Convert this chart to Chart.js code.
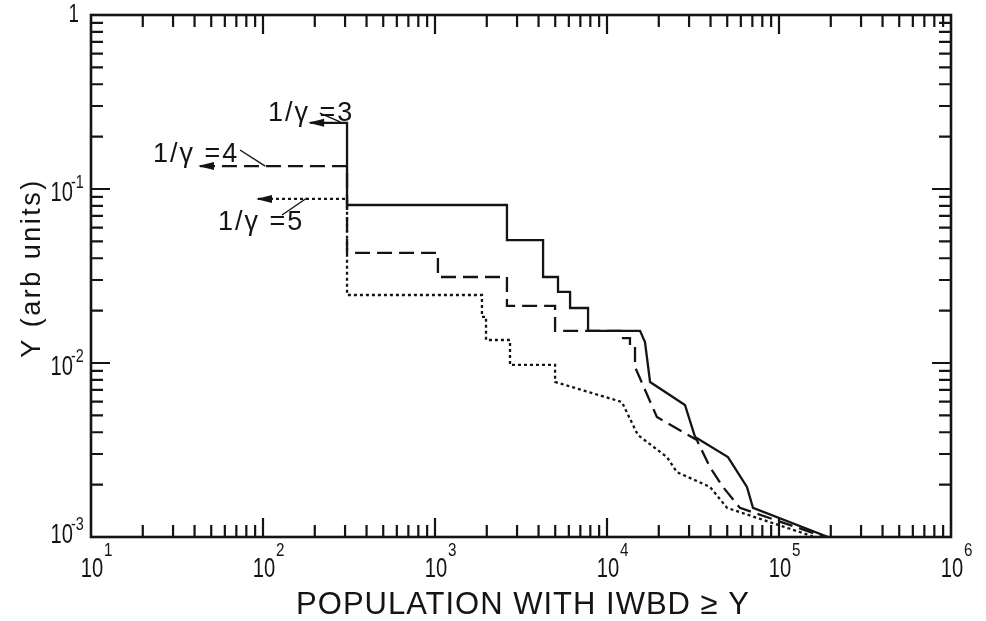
<!DOCTYPE html>
<html>
<head>
<meta charset="utf-8">
<script src="https://cdn.jsdelivr.net/npm/chart.js@4/dist/chart.umd.min.js"></script>
<style>
  html, body { margin: 0; padding: 0; background: #fff; }
  #wrap { width: 986px; height: 621px; position: relative; }
</style>
</head>
<body>
<div id="wrap"><canvas id="chart" width="986" height="621"></canvas></div>
<script>
// values (x = population, y = arb units)
const solidX = [188, 308, 308, 2620, 2620, 4250, 4250, 5190, 5190, 6100, 6100, 7760, 7760, 15560, 16630, 17800, 28400, 32500, 50500, 65100, 70600, 198000];
const solidY = [0.240, 0.240, 0.0809, 0.0809, 0.0509, 0.0509, 0.0312, 0.0312, 0.0256, 0.0256, 0.0207, 0.0207, 0.0153, 0.0153, 0.0132, 0.00778, 0.00574, 0.00376, 0.00288, 0.00194, 0.00147, 0.00099];

const dashX = [43, 308, 308, 1040, 1040, 2620, 2620, 4990, 4990, 12050, 12050, 13600, 13600, 14550, 14550, 19500, 33300, 39700, 47200, 59300, 190000];
const dashY = [0.1355, 0.1355, 0.0429, 0.0429, 0.0312, 0.0312, 0.0213, 0.0213, 0.0153, 0.0153, 0.0139, 0.0139, 0.0124, 0.0124, 0.00948, 0.0049, 0.00361, 0.00252, 0.00194, 0.00147, 0.00099];

const dotX = [93.5, 308, 308, 1875, 1875, 1980, 1980, 2730, 2730, 4990, 4990, 12200, 15100, 22300, 25500, 39700, 49900, 166000];
const dotY = [0.0877, 0.0877, 0.0246, 0.0246, 0.0184, 0.0184, 0.01356, 0.01356, 0.00975, 0.00975, 0.00778, 0.00597, 0.00386, 0.00288, 0.00236, 0.00194, 0.00147, 0.00099];

const xDecades = [1, 2, 3, 4, 5, 6];
const yDecades = [0, -1, -2, -3];

// curve labels: text, label anchor, leader line from/to (data coords)
const curveLabels = [
    { text: '1/\u03b3 =3', x: 107, y: 0.246, from: [214, 0.273], to: [281, 0.243] },
    { text: '1/\u03b3 =4', x: 22.9, y: 0.143, from: [73.5, 0.1676], to: [103, 0.1355] },
    { text: '1/\u03b3 =5', x: 54.7, y: 0.0581, from: [129, 0.0709], to: [180, 0.0888] }
];

function toPoints(xs, ys) {
    return xs.map((x, i) => ({ x: x, y: ys[i] }));
}

const INK = '#141414';
const FONT = '"Liberation Sans", "DejaVu Sans", sans-serif';

// narrow text, the scan uses a condensed lettering
function drawText(ctx, text, x, y, size, align, sx) {
    ctx.save();
    ctx.translate(x, y);
    ctx.scale(sx, 1);
    ctx.font = size + 'px ' + FONT;
    ctx.textAlign = align;
    ctx.textBaseline = 'alphabetic';
    ctx.fillText(text, 0, 0);
    ctx.restore();
}

// inward ticks on all four sides plus the frame
const frameTicks = {
    id: 'frameTicks',
    afterDraw(chart) {
        const { ctx, chartArea: { top, right, bottom, left }, scales: { x, y } } = chart;
        ctx.save();
        ctx.strokeStyle = INK;
        ctx.lineWidth = 2.2;
        ctx.lineCap = 'butt';

        ctx.beginPath();
        for (let d = 1; d < 6; d++) {
            for (let m = 1; m <= 9; m++) {
                const v = m * Math.pow(10, d);
                const px = x.getPixelForValue(v);
                const len = m == 1 ? 19 : 12;
                if (m == 1 && d == 1) continue;
                ctx.moveTo(px, bottom); ctx.lineTo(px, bottom - len);
                ctx.moveTo(px, top); ctx.lineTo(px, top + len);
            }
        }
        for (let d = -3; d < 0; d++) {
            for (let m = 1; m <= 9; m++) {
                const v = m * Math.pow(10, d);
                const py = y.getPixelForValue(v);
                const len = m == 1 ? 19 : 12;
                if (m == 1 && d == -3) continue;
                ctx.moveTo(left, py); ctx.lineTo(left + len, py);
                ctx.moveTo(right, py); ctx.lineTo(right - len, py);
            }
        }
        ctx.stroke();

        ctx.lineWidth = 2.6;
        ctx.strokeRect(left, top, right - left, bottom - top);

        // tick labels
        ctx.fillStyle = INK;
        xDecades.forEach(d => {
            const px = x.getPixelForValue(Math.pow(10, d));
            drawText(ctx, '10', px + 1, bottom + 40, 28, 'center', 0.72);
            drawText(ctx, String(d), px + 13, bottom + 19, 19, 'left', 0.8);
        });
        yDecades.forEach(d => {
            const py = y.getPixelForValue(Math.pow(10, d));
            if (d == 0) {
                drawText(ctx, '1', left - 12, py + 7, 26, 'right', 0.72);
                return;
            }
            const dy = d == -3 ? 6 : 12;
            drawText(ctx, '10', left - 18, py + dy, 28, 'right', 0.72);
            drawText(ctx, '-' + String(-d), left - 20, py + dy - 13, 18, 'left', 0.8);
        });

        // axis titles
        ctx.font = '31px ' + FONT;
        ctx.letterSpacing = '1px';
        ctx.textAlign = 'center';
        ctx.fillText('POPULATION WITH IWBD \u2265 Y', 523, 614);

        ctx.save();
        ctx.translate(40, 268);
        ctx.rotate(-Math.PI / 2);
        ctx.font = '27px ' + FONT;
        ctx.letterSpacing = '2.5px';
        ctx.fillText('Y (arb units)', 0, 0);
        ctx.restore();

        ctx.restore();
    }
};

// left-pointing arrow heads at the start of each curve, and the curve labels
const curveNotes = {
    id: 'curveNotes',
    afterDatasetsDraw(chart) {
        const { ctx, scales: { x, y } } = chart;
        ctx.save();
        ctx.fillStyle = INK;
        ctx.strokeStyle = INK;
        chart.data.datasets.forEach(ds => {
            const p = ds.data[0];
            const px = x.getPixelForValue(p.x);
            const py = y.getPixelForValue(p.y);
            ctx.beginPath();
            ctx.moveTo(px - 2, py);
            ctx.lineTo(px + 14, py - 4);
            ctx.lineTo(px + 14, py + 4);
            ctx.closePath();
            ctx.fill();
        });

        ctx.lineWidth = 1.4;
        curveLabels.forEach(c => {
            ctx.font = '27px ' + FONT;
            ctx.letterSpacing = '2px';
            ctx.textAlign = 'left';
            ctx.textBaseline = 'alphabetic';
            ctx.fillText(c.text, x.getPixelForValue(c.x), y.getPixelForValue(c.y));
            ctx.beginPath();
            ctx.moveTo(x.getPixelForValue(c.from[0]), y.getPixelForValue(c.from[1]));
            ctx.lineTo(x.getPixelForValue(c.to[0]), y.getPixelForValue(c.to[1]));
            ctx.stroke();
        });
        ctx.restore();
    }
};

const ctx = document.getElementById('chart').getContext('2d');
new Chart(ctx, {
    type: 'line',
    data: {
        datasets: [
            { label: '1/\u03b3=3', data: toPoints(solidX, solidY), borderColor: INK, borderWidth: 2.3, pointRadius: 0, tension: 0, fill: false },
            { label: '1/\u03b3=4', data: toPoints(dashX, dashY), borderColor: INK, borderWidth: 2.3, borderDash: [15, 7], pointRadius: 0, tension: 0, fill: false },
            { label: '1/\u03b3=5', data: toPoints(dotX, dotY), borderColor: INK, borderWidth: 2.3, borderDash: [3, 3], pointRadius: 0, tension: 0, fill: false }
        ]
    },
    options: {
        responsive: false,
        animation: false,
        layout: { padding: { left: 91, right: 35, top: 15, bottom: 84 } },
        plugins: { legend: { display: false }, tooltip: { enabled: false } },
        scales: {
            x: { type: 'logarithmic', min: 10, max: 1e6, display: false },
            y: { type: 'logarithmic', min: 1e-3, max: 1, display: false }
        }
    },
    plugins: [frameTicks, curveNotes]
});
</script>
</body>
</html>
